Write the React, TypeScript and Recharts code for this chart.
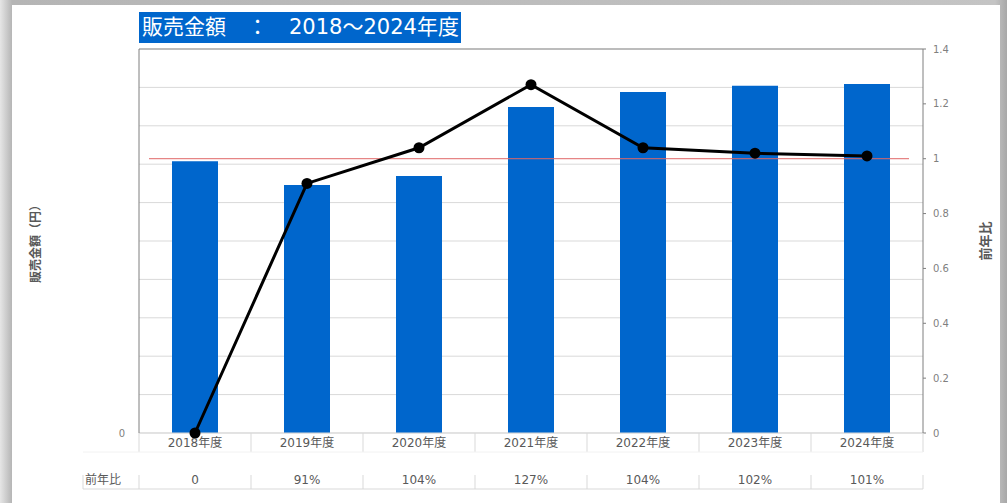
import React from "react"
import {
  Bar,
  CartesianGrid,
  ComposedChart,
  Line,
  ReferenceLine,
  XAxis,
  YAxis,
} from "recharts"

const categories = ["2018年度", "2019年度", "2020年度", "2021年度", "2022年度", "2023年度", "2024年度"]
const sales = [7.08, 6.46, 6.69, 8.49, 8.88, 9.04, 9.09]
const ratio = [0, 0.91, 1.04, 1.27, 1.04, 1.02, 1.01]
const salesTicks = [0, 1, 2, 3, 4, 5, 6, 7, 8, 9, 10]
const ratioTicks = [0, 0.2, 0.4, 0.6, 0.8, 1, 1.2, 1.4]

const FONT = '"DejaVu Sans", "Noto Sans CJK JP", sans-serif'
const CJK = '"Noto Sans CJK JP", sans-serif'

const data = categories.map((name, i) => ({ name, sales: sales[i], ratio: ratio[i] }))

const fmtPct = (r: number) => (r === 0 ? "0" : `${Math.round(r * 100)}%`)

function CategoryTick(props: any) {
  const { x, y, payload, index, visibleTicksCount } = props
  const half = payload?.offset ?? 56
  const last = index === visibleTicksCount - 1
  return (
    <g>
      <line x1={x - half} x2={x - half} y1={y} y2={y + 19} stroke="#d9d9d9" />
      {last ? <line x1={x + half} x2={x + half} y1={y} y2={y + 19} stroke="#d9d9d9" /> : null}
      <text x={x} y={y + 14} textAnchor="middle" fontSize={12} fill="#595959" fontFamily={FONT}>
        {payload.value}
      </text>
    </g>
  )
}

function TableTick(props: any) {
  const { x, y, payload, index, visibleTicksCount } = props
  const half = payload?.offset ?? 56
  const last = index === visibleTicksCount - 1
  const r = ratio[index]
  return (
    <g>
      {index === 0 ? (
        <g>
          <line x1={x - half - 56} x2={x + half} y1={y - 3} y2={y - 3} stroke="#f2f2f2" />
          <line x1={x - half - 56} x2={x - half - 56} y1={y + 20} y2={y + 34} stroke="#d9d9d9" />
          <line x1={x - half - 56} x2={x - half} y1={y + 34} y2={y + 34} stroke="#d9d9d9" />
          <text x={x - half - 54} y={y + 29} fontSize={12} fill="#595959" fontFamily={CJK}>
            前年比
          </text>
        </g>
      ) : (
        <line x1={x - half} x2={x + half} y1={y - 3} y2={y - 3} stroke="#f2f2f2" />
      )}
      <line x1={x - half} x2={x - half} y1={y + 20} y2={y + 34} stroke="#d9d9d9" />
      {last ? <line x1={x + half} x2={x + half} y1={y + 20} y2={y + 34} stroke="#d9d9d9" /> : null}
      <line x1={x - half} x2={x + half} y1={y + 34} y2={y + 34} stroke="#d9d9d9" />
      <text x={x} y={y + 29} textAnchor="middle" fontSize={12} fill="#595959" fontFamily={FONT}>
        {fmtPct(r)}
      </text>
    </g>
  )
}

const leftTitle = (p: any) => {
  const vb = p.viewBox
  const cx = vb.x + 4
  const cy = vb.y + vb.height / 2
  return (
    <text x={cx} y={cy} transform={`rotate(-90 ${cx} ${cy})`} textAnchor="middle" dominantBaseline="central" fontSize={12} fontWeight="bold" fill="#595959" fontFamily={CJK}>
      販売金額（円）
    </text>
  )
}

const rightTitle = (p: any) => {
  const vb = p.viewBox
  const cx = vb.x + 61
  const cy = vb.y + vb.height / 2
  return (
    <text x={cx} y={cy} transform={`rotate(-90 ${cx} ${cy})`} textAnchor="middle" dominantBaseline="central" fontSize={13} fontWeight="bold" fill="#595959" fontFamily={CJK}>
      前年比
    </text>
  )
}

// excel draws the target line a bit inside the plot area
const redLine = (p: any) => {
  const a = Math.min(p.x1, p.x2)
  const b = Math.max(p.x1, p.x2)
  return <line x1={a + 10} x2={b - 14} y1={p.y1} y2={p.y2} stroke="#e06666" strokeWidth={1} />
}

export default function App() {
  return (
    <div style={{ position: "absolute", left: 0, top: 0, width: 1007, height: 503, overflow: "hidden", background: "linear-gradient(to right, #e6e6e6 0px, #b5b5b5 12px, #c4c4c4 995px, #a8a8a8 1007px)" }}>
      <div style={{ position: "absolute", left: 12, top: 5, width: 988, height: 498, background: "#fff" }} />
      <div style={{ position: "absolute", left: 139, top: 12, width: 322, height: 31, background: "#0066cc", color: "#fff", fontFamily: FONT, fontSize: 21, lineHeight: "31px", paddingLeft: 3, boxSizing: "border-box", whiteSpace: "nowrap", overflow: "hidden" }}>
        販売金額　：　2018～2024年度
      </div>
      <div style={{ position: "absolute", left: 0, top: 0 }}>
        <ComposedChart width={1007} height={503} data={data} margin={{ top: 49, right: 22, left: 30, bottom: 13 }}>
          <CartesianGrid xAxisId="cat" yAxisId="left" vertical={false} stroke="#d9d9d9" />
          <XAxis xAxisId="cat" dataKey="name" height={22} tickSize={0} tickMargin={0} tickLine={false} axisLine={{ stroke: "#d9d9d9" }} tick={<CategoryTick />} interval={0} />
          <XAxis xAxisId="table" dataKey="name" height={35} tickSize={0} tickMargin={0} tickLine={false} axisLine={false} tick={<TableTick />} interval={0} />
          <YAxis
            yAxisId="left"
            width={109}
            domain={[0, 10]}
            ticks={salesTicks}
            tickFormatter={(v: number) => (v === 0 ? "0" : "")}
            tickLine={false}
            tickMargin={8}
            axisLine={{ stroke: "#7f7f7f" }}
            tick={{ fontSize: 10, fill: "#7f7f7f", fontFamily: FONT }}
            label={{ content: leftTitle }}
          />
          <YAxis
            yAxisId="right"
            orientation="right"
            width={62}
            domain={[0, 1.4]}
            ticks={ratioTicks}
            tickSize={3}
            tickMargin={7}
            tickLine={{ stroke: "#7f7f7f" }}
            axisLine={{ stroke: "#7f7f7f" }}
            tick={{ fontSize: 10, fill: "#7f7f7f", fontFamily: FONT, textAnchor: "start" }}
            label={{ content: rightTitle }}
          />
          <ReferenceLine xAxisId="cat" yAxisId="left" y={10} stroke="#8c8c8c" />
          <Bar xAxisId="cat" yAxisId="left" dataKey="sales" fill="#0066cc" barSize={46} isAnimationActive={false} />
          <ReferenceLine xAxisId="cat" yAxisId="right" y={1} shape={redLine} />
          <Line
            xAxisId="cat"
            yAxisId="right"
            type="linear"
            dataKey="ratio"
            stroke="#000"
            strokeWidth={3}
            dot={{ r: 5.5, fill: "#000", stroke: "#000", strokeWidth: 0 }}
            isAnimationActive={false}
          />
        </ComposedChart>
      </div>
    </div>
  )
}
